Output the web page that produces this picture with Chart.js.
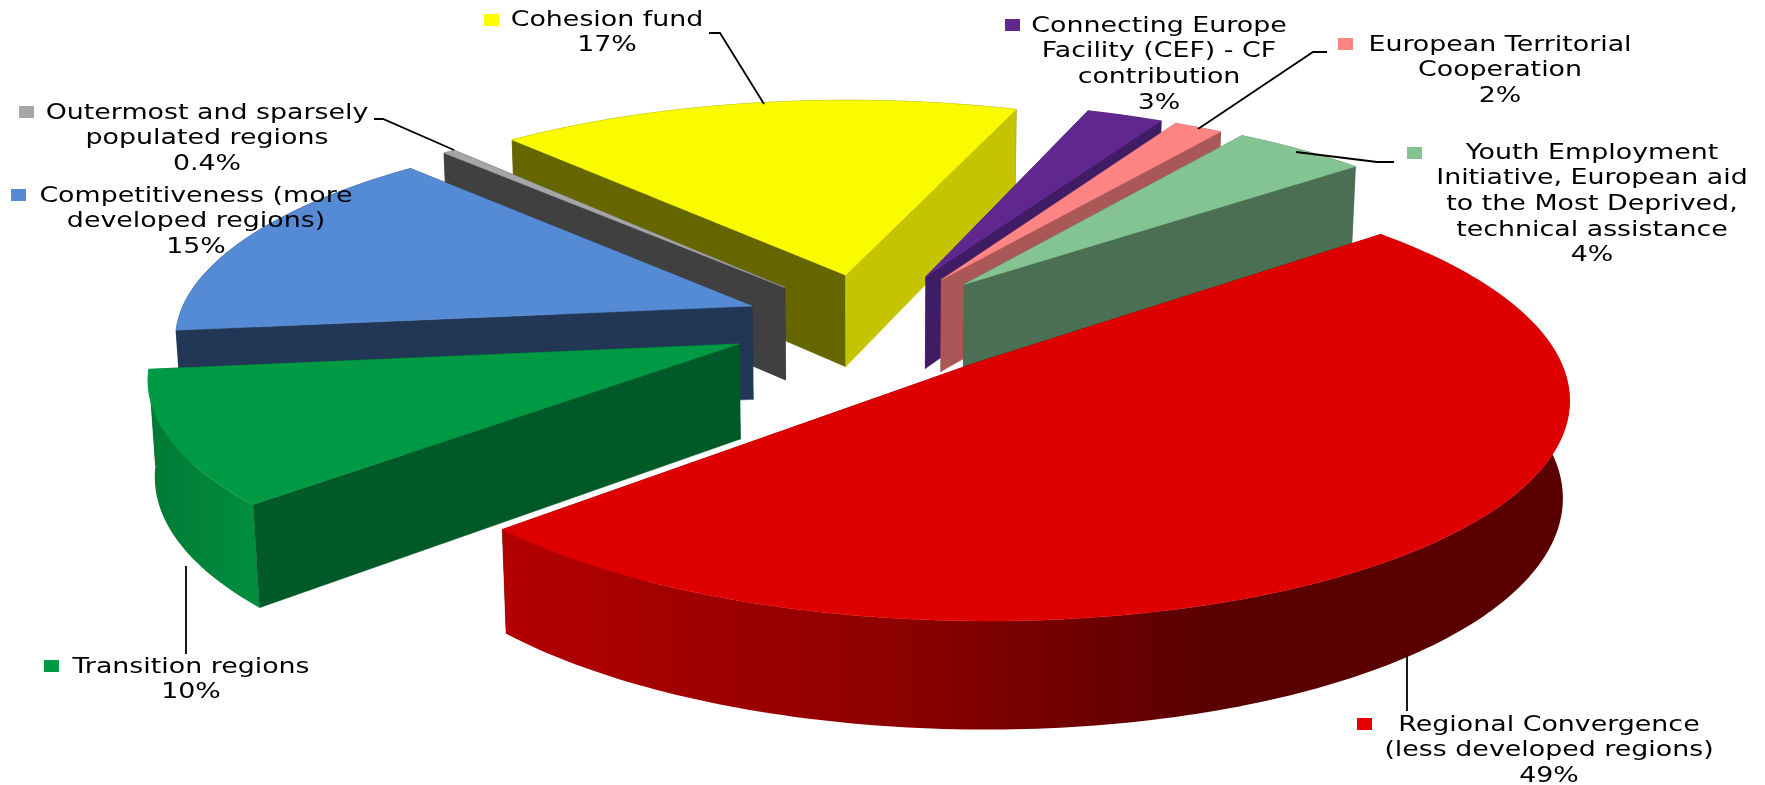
<!DOCTYPE html>
<html>
<head>
<meta charset="utf-8">
<title>Funds</title>
<script src="https://cdn.jsdelivr.net/npm/chart.js@4"></script>
<style>html,body{margin:0;padding:0;background:#fff}canvas{display:block}</style>
</head>
<body>
<canvas id="c" width="1765" height="785"></canvas>
<script>
const categories = ['Regional Convergence (less developed regions)','Transition regions','Competitiveness (more developed regions)','Outermost and sparsely populated regions','Cohesion fund','Connecting Europe Facility (CEF) - CF contribution','European Territorial Cooperation','Youth Employment Initiative, European aid to the Most Deprived, technical assistance'];
const shares = [49.3, 10, 15, 0.4, 17, 2.5, 1.6, 4.4];
const topColors = ['#DE0000','#009A44','#558BD5','#A6A6A6','#FAFA00','#60278F','#FF8585','#83C492'];
const startWallColors = ['#5A0000','#005A28','#223755','#404040','#666600','#3F1C63','#AA5757','#4A6F52'];
const endWallColors = ['#5A0000','#005A28','#223755','#404040','#C4C400','#3F1C63','#AA5757','#4A6F52'];
const keyColors = ['#E60000','#009A44','#558BD5','#A6A6A6','#FFFF00','#60278F','#FF8585','#83C492'];
const explode = [150, 142, 127, 130, 135, 140, 140, 143];
const labelLines = [
  ['Regional Convergence','(less developed regions)'],
  ['Transition regions'],
  ['Competitiveness (more','developed regions)'],
  ['Outermost and sparsely','populated regions'],
  ['Cohesion fund'],
  ['Connecting Europe','Facility (CEF) - CF','contribution'],
  ['European Territorial','Cooperation'],
  ['Youth Employment','Initiative, European aid','to the Most Deprived,','technical assistance']
];
// label layout: text centre x, first line centre y, key left x, key top y
const labelPlace = [[1549,725,1357,718],[191,667,44,660],[196,196,11,189],[207,113,19,106],[607,20,484,14],[1159,26,1005,19],[1500,45,1338,38],[1592,153,1407,147]];
const leaders = [
  [[1407,655],[1407,711]],
  [[186,566],[186,654]],
  [],
  [[374,119],[383,119],[454,150]],
  [[709,33],[720,33],[764,104]],
  [],
  [[1327,52],[1313,52],[1198,129]],
  [[1394,162],[1377,162],[1296,152]]
];
const view = {sin:0.365, dist:4000, depth:102};
const lineGap = 25.6, fontPx = 22, textStretch = 1.22;

function pctText(v) { return (v < 1 ? v : Math.round(v)) + '%'; }
function project(X, Y, Z, cx, cy) {
  const cos = Math.sqrt(1 - view.sin * view.sin);
  const w = view.dist - Y * cos - Z * view.sin;
  const f = view.dist / w;
  return [cx + X * f, cy + (Y * view.sin - Z * cos) * f];
}
function poly(ctx, pts, fill) {
  ctx.beginPath();
  pts.forEach((p, i) => i ? ctx.lineTo(p[0], p[1]) : ctx.moveTo(p[0], p[1]));
  ctx.closePath();
  ctx.fillStyle = fill; ctx.fill();
  ctx.strokeStyle = typeof fill === 'string' ? fill : 'rgba(0,0,0,0)';
  ctx.lineWidth = 0.5; ctx.stroke();
}
function outerFill(ctx, i, fallback) {
  if (i === 0) {
    const g = ctx.createLinearGradient(503, 0, 1566, 0);
    g.addColorStop(0, '#B30000'); g.addColorStop(0.38, '#8B0000');
    g.addColorStop(0.66, '#5A0000'); g.addColorStop(1, '#5A0000');
    return g;
  }
  if (i === 1) {
    const g = ctx.createLinearGradient(152, 0, 270, 0);
    g.addColorStop(0, '#007A36'); g.addColorStop(1, '#00913F');
    return g;
  }
  return fallback;
}
const pie3d = {
  id: 'pie3d',
  beforeDatasetsDraw(chart) {
    const ctx = chart.ctx;
    const arcs = chart.getDatasetMeta(0).data;
    const order = arcs.map((a, i) => i).sort((p, q) =>
      Math.sin((arcs[p].startAngle + arcs[p].endAngle) / 2) - Math.sin((arcs[q].startAngle + arcs[q].endAngle) / 2));
    ctx.save();
    order.forEach(i => {
      const a = arcs[i];
      const mid = (a.startAngle + a.endAngle) / 2;
      const off = a.options.offset;
      const ox = Math.cos(mid) * off, oy = Math.sin(mid) * off;
      const P = (ang, r, z) => project(ox + Math.cos(ang) * r, oy + Math.sin(ang) * r, z, a.x, a.y);
      const R = a.outerRadius, h = -view.depth;
      const apexT = P(0, 0, 0), apexB = P(0, 0, h);
      const steps = Math.max(2, Math.ceil((a.endAngle - a.startAngle) * 180 / Math.PI));
      const top = [], bot = [];
      for (let s = 0; s <= steps; s++) {
        const t = a.startAngle + (a.endAngle - a.startAngle) * s / steps;
        top.push(P(t, R, 0)); bot.push(P(t, R, h));
      }
      const startWall = [apexT, top[0], bot[0], apexB];
      const endWall = [apexT, top[steps], bot[steps], apexB];
      const startFront = Math.sin(a.startAngle - Math.PI / 2) > 0;
      const endFront = Math.sin(a.endAngle + Math.PI / 2) > 0;
      if (!startFront) poly(ctx, startWall, startWallColors[i]);
      if (!endFront) poly(ctx, endWall, endWallColors[i]);
      poly(ctx, top.concat(bot.slice().reverse()), outerFill(ctx, i, startWallColors[i]));
      if (startFront) poly(ctx, startWall, startWallColors[i]);
      if (endFront) poly(ctx, endWall, endWallColors[i]);
      poly(ctx, [apexT].concat(top), topColors[i]);
    });
    ctx.restore();
    return false;
  },
  afterDraw(chart) {
    const ctx = chart.ctx;
    ctx.save();
    ctx.strokeStyle = '#000'; ctx.lineWidth = 1.8;
    leaders.forEach(l => {
      if (!l.length) return;
      ctx.beginPath();
      l.forEach((p, i) => i ? ctx.lineTo(p[0], p[1]) : ctx.moveTo(p[0], p[1]));
      ctx.stroke();
    });
    ctx.font = fontPx + 'px "DejaVu Sans"';
    ctx.fillStyle = '#000'; ctx.textAlign = 'center'; ctx.textBaseline = 'middle';
    labelLines.forEach((lines, i) => {
      const [tx, ty, kx, ky] = labelPlace[i];
      ctx.save();
      ctx.fillStyle = keyColors[i];
      ctx.fillRect(kx, ky, 15, 12);
      ctx.restore();
      lines.concat([pctText(shares[i])]).forEach((txt, n) => {
        ctx.save();
        ctx.translate(tx, ty + n * lineGap);
        ctx.scale(textStretch, 1);
        ctx.fillText(txt, 0, 0);
        ctx.restore();
      });
    });
    ctx.restore();
  }
};
new Chart(document.getElementById('c'), {
  type: 'pie',
  data: {
    labels: categories,
    datasets: [{data: shares, backgroundColor: topColors, offset: explode, borderWidth: 0, hoverOffset: 0}]
  },
  options: {
    responsive: false,
    animation: false,
    rotation: 50.3,
    radius: 575,
    layout: {padding: {right: 25, bottom: 141}},
    plugins: {legend: {display: false}, tooltip: {enabled: false}}
  },
  plugins: [pie3d]
});
</script>
</body>
</html>
